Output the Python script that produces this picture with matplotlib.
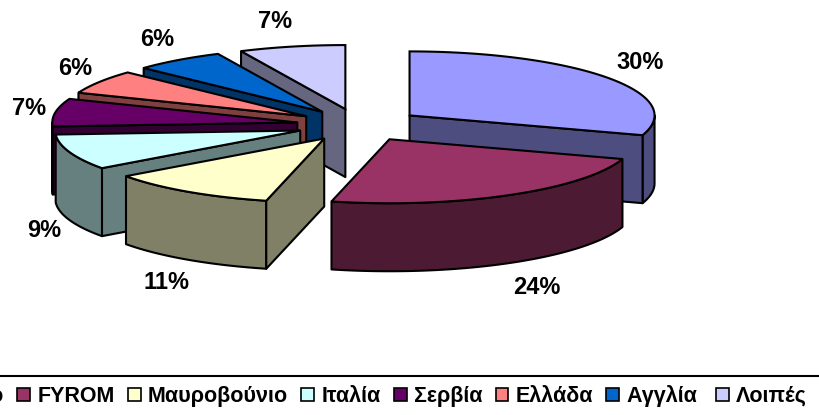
import numpy as np
import matplotlib
matplotlib.use("Agg")
import matplotlib.pyplot as plt
from matplotlib.patches import Patch, Polygon

labels = ["Κόσοβο", "FYROM", "Μαυροβούνιο", "Ιταλία", "Σερβία", "Ελλάδα", "Αγγλία ", "Λοιπές"]
values = [30, 23.8, 11.2, 9, 7, 6, 6, 7]
top_colors = ["#9999FF", "#993366", "#FFFFCC", "#CCFFFF", "#660066", "#FF8080", "#0066CC", "#CCCCFF"]
side_colors = ["#4D4D80", "#4D1A33", "#808066", "#668080", "#330033", "#804040", "#003366", "#666680"]

# pie geometry in image pixels
cx, cy = 359, 125
rx, ry = 245, 64
explode = 0.255
depth = 68
draw_order = [7, 6, 5, 4, 3, 0, 1, 2]

plt.rcParams["font.family"] = ["Liberation Sans", "DejaVu Sans"]
plt.rcParams["font.weight"] = "bold"

fig = plt.figure(figsize=(8.19, 4.15), dpi=100)
ax = fig.add_axes([0, 0, 1, 1])
ax.set_xlim(0, 819)
ax.set_ylim(415, 0)
ax.axis("off")


def point(apex, t):
    return apex[0] + rx * np.sin(t), apex[1] - ry * np.cos(t)


def wall(pts, color, z):
    pts = np.array(pts)
    low = pts[::-1] + [0, depth]
    ax.add_patch(Polygon(np.vstack([pts, low]), closed=True, fc=color, ec="black", lw=1.5, joinstyle="round", zorder=z))


edges = np.radians(np.cumsum([0] + values) * 3.6)
for z, i in enumerate(draw_order):
    a, b = edges[i], edges[i + 1]
    mid = (a + b) / 2
    apex = (cx + explode * rx * np.sin(mid), cy - explode * ry * np.cos(mid))
    base = z * 10

    # front rim, only where the ellipse faces the viewer
    lo, hi = max(a, np.pi / 2), min(b, 3 * np.pi / 2)
    if lo < hi:
        tt = np.linspace(lo, hi, 60)
        wall(list(zip(*point(apex, tt))), side_colors[i], base + 1)
    # cut faces
    if a > np.pi and a < 2 * np.pi:
        wall([apex, point(apex, a)], side_colors[i], base + 2)
    if b < np.pi:
        wall([apex, point(apex, b)], side_colors[i], base + 2)

    tt = np.linspace(a, b, 80)
    xs, ys = point(apex, tt)
    outline = np.vstack([[apex], np.column_stack([xs, ys])])
    ax.add_patch(Polygon(outline, closed=True, fc=top_colors[i], ec="black", lw=1.5, zorder=base + 3))

    # percentage label just outside the rim
    lx = apex[0] + 1.05 * rx * np.sin(mid) + 18 * np.sign(np.sin(mid)) + 4
    ly = apex[1] - 1.4 * ry * np.cos(mid) + (depth + 2 if np.cos(mid) < 0 else 0)
    ax.text(lx, ly, f"{values[i]:.0f}%", ha="center", va="center", fontsize=17, fontweight="bold", color="black", zorder=200)

ax.axhline(376, color="black", lw=1.5, zorder=100)

handles = [Patch(fc=c, ec="black", lw=1.2) for c in top_colors]
ax.legend(handles, labels, loc="center right", bbox_to_anchor=(807, 396), bbox_transform=ax.transData,
          ncol=8, frameon=False, fontsize=15.5, handlelength=0.6, handleheight=0.6,
          handletextpad=0.35, columnspacing=0.6, borderpad=0, borderaxespad=0)

fig.savefig("out.png", dpi=100)
